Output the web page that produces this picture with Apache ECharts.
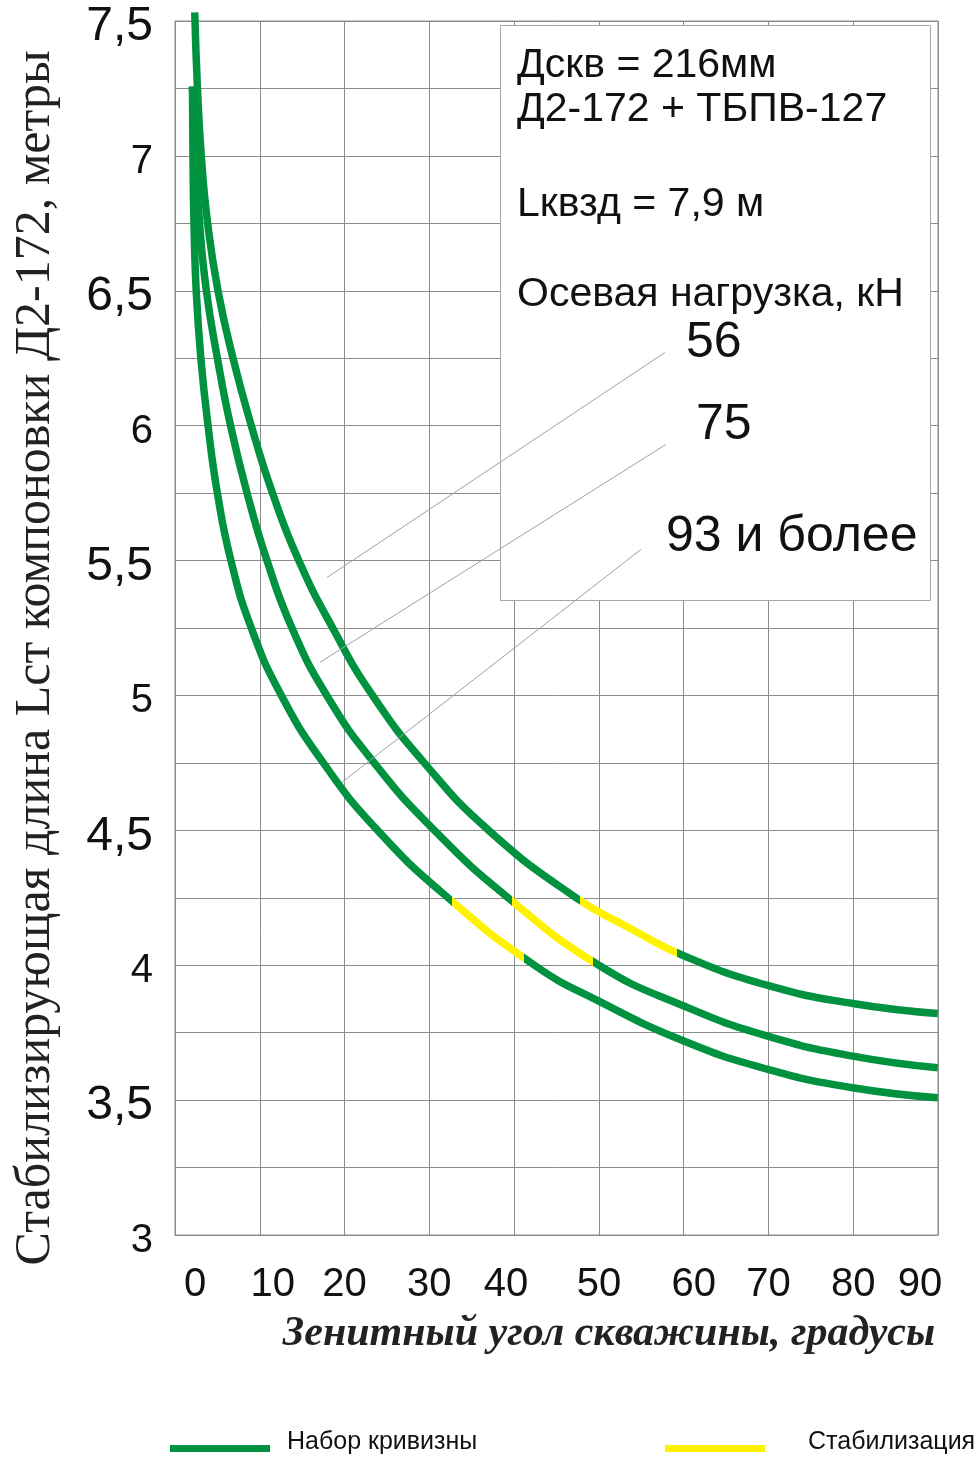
<!DOCTYPE html>
<html><head><meta charset="utf-8">
<script src="https://cdn.jsdelivr.net/npm/echarts@6/dist/echarts.min.js"></script>
<style>html,body{margin:0;padding:0;background:#fff}#c{width:976px;height:1459px}</style>
</head><body><div id="c"></div>
<script>
// ---- data (zenith angle, degrees ; stabilizing length, m) ----
const angle56 = [2.33, 2.65, 3.10, 3.85, 5.07, 6.84, 9.00, 11.50, 14.60, 18.60, 23.30, 29.40, 37.00, 47.30, 53.50, 60.02, 69.92, 79.95, 89.97];
const len56   = [7.532, 7.25, 7.00, 6.75, 6.50, 6.25, 6.00, 5.75, 5.50, 5.25, 5.00, 4.75, 4.50, 4.25, 4.14, 4.035, 3.925, 3.858, 3.821];
const angle75 = [2.06, 2.40, 2.90, 3.70, 5.00, 6.55, 8.50, 10.85, 13.80, 17.90, 23.50, 30.60, 39.30, 50.00, 60.02, 69.92, 79.95, 89.97];
const len75   = [7.257, 7.00, 6.75, 6.50, 6.25, 6.00, 5.75, 5.50, 5.25, 5.00, 4.75, 4.50, 4.25, 4.00, 3.849, 3.737, 3.663, 3.620];
const angle93 = [2.06, 2.12, 2.24, 2.50, 3.05, 3.90, 5.00, 6.60, 9.00, 12.55, 17.50, 23.90, 32.20, 42.40, 49.99, 60.02, 69.92, 79.95, 89.97];
const len93   = [7.257, 7.00, 6.75, 6.50, 6.25, 6.00, 5.75, 5.50, 5.25, 5.00, 4.75, 4.50, 4.25, 4.00, 3.867, 3.719, 3.614, 3.546, 3.509];
// stabilization (yellow) ranges by angle
const stab56 = [47.75, 59.16];
const stab75 = [39.70, 49.29];
const stab93 = [32.63, 41.15];
// leader lines from labels to curves [angle, length]
const leader56 = [[57.78, 6.271], [17.92, 5.437]];
const leader75 = [[57.89, 5.930], [17.10, 5.123]];
const leader93 = [[54.95, 5.541], [19.69, 4.678]];
const xTickLabels = ['0','10','20','30','40','50','60','70','80','90'];
const yTickLabels = ['3','3,5','4','4,5','5','5,5','6','6,5','7','7,5'];
const seriesNames = ['56', '75', '93 и более'];
const legendNames = ['Набор кривизны', 'Стабилизация'];

const GREEN = '#00923f', YELLOW = '#fff200', GRID = '#8c8c8c';
const SANS = "'Liberation Sans', Arial, sans-serif";
const SERIF = "'Liberation Serif', 'Times New Roman', serif";

const zip = (a, b) => a.map((v, i) => [v, b[i]]);
const chart = echarts.init(document.getElementById('c'), null, {renderer: 'canvas'});

function curve(name, ax, ly, leader) {
  return {
    type: 'line', name, data: zip(ax, ly), smooth: 0.5,
    showSymbol: false, clip: false, lineStyle: {width: 7.5}, z: 3,
    markLine: {silent: true, symbol: 'none', label: {show: false}, animation: false,
      lineStyle: {color: '#a0a0a0', width: 1, type: 'solid'},
      data: [[{coord: leader[0]}, {coord: leader[1]}]]}
  };
}
function stabMap(idx, r) {
  return {type: 'piecewise', show: false, seriesIndex: idx, dimension: 0,
    pieces: [{lt: r[0], color: GREEN}, {gte: r[0], lte: r[1], color: YELLOW}, {gt: r[1], color: GREEN}]};
}
const xShift = {0: 40, 10: 26, 40: -16, 60: 20, 90: -36};
const xRich = {};
xTickLabels.forEach((t, i) => {
  const v = i * 10, s = xShift[v] || 0;
  xRich['t' + v] = {fontFamily: SANS, fontSize: 40, color: '#111', padding: s >= 0 ? [0, 0, 0, s] : [0, -s, 0, 0]};
});
function legendCfg(name, left, gap) {
  return {data: [name], left, top: 1430, padding: 0, icon: 'rect', itemWidth: 100, itemHeight: 7,
    selectedMode: false, formatter: n => '{a|' + n + '}',
    textStyle: {fontFamily: SANS, fontSize: 25, color: '#111',
      rich: {a: {fontFamily: SANS, fontSize: 25, color: '#111', padding: [0, 0, 12, gap]}}}};
}

chart.setOption({
  animation: false,
  backgroundColor: '#fff',
  grid: {left: 175, top: 21, width: 763, height: 1214, show: true, borderColor: GRID, borderWidth: 1},
  xAxis: {
    type: 'value', min: 0, max: 90, interval: 10,
    axisLine: {show: true, lineStyle: {color: GRID}}, axisTick: {show: false},
    splitLine: {show: true, lineStyle: {color: GRID, width: 1}},
    axisLabel: {margin: 30, formatter: v => '{t' + v + '|' + xTickLabels[Math.round(v / 10)] + '}', rich: xRich},
    name: 'Зенитный угол скважины, градусы', nameLocation: 'middle', nameGap: 78,
    nameTextStyle: {fontFamily: SERIF, fontSize: 42, fontStyle: 'italic', fontWeight: 'bold', color: '#222', padding: [0, 0, 0, 105]}
  },
  yAxis: {
    type: 'value', min: 3, max: 7.5, interval: 0.25,
    axisLine: {show: true, lineStyle: {color: GRID}}, axisTick: {show: false},
    splitLine: {show: true, lineStyle: {color: GRID, width: 1}},
    axisLabel: {margin: 22, formatter: v => {
        const k = Math.round(v * 2);
        if (Math.abs(v * 2 - k) > 1e-6) return '';
        const t = yTickLabels[k - 6];
        return (k % 2 === 0 ? '{i|' : '{h|') + t + '}';
      },
      rich: {i: {fontFamily: SANS, fontSize: 40, color: '#111', padding: [12, 0, 0, 0]},
             h: {fontFamily: SANS, fontSize: 48, color: '#111', padding: [12, 0, 0, 0]}}},
    name: 'Стабилизирующая длина Lст компоновки Д2-172, метры', nameLocation: 'middle', nameGap: 114, nameRotate: 90,
    nameTextStyle: {fontFamily: SERIF, fontSize: 50, color: '#222', padding: [0, 60, 0, 0]}
  },
  visualMap: [stabMap(0, stab56), stabMap(1, stab75), stabMap(2, stab93)],
  legend: [legendCfg(legendNames[0], 170, 12), legendCfg(legendNames[1], 665, 38)],
  series: [
    curve(seriesNames[0], angle56, len56, leader56),
    curve(seriesNames[1], angle75, len75, leader75),
    curve(seriesNames[2], angle93, len93, leader93),
    {type: 'line', name: legendNames[0], data: [], color: GREEN},
    {type: 'line', name: legendNames[1], data: [], color: YELLOW}
  ],
  graphic: [
    {type: 'rect', z: 1, shape: {x: 500.5, y: 25.5, width: 430, height: 575}, style: {fill: '#fff', stroke: '#a8a8a8', lineWidth: 1}},
    {type: 'text', z: 10, style: {text: 'Дскв = 216мм', x: 517, y: 66, font: "41px " + SANS, fill: '#111', textVerticalAlign: 'middle'}},
    {type: 'text', z: 10, style: {text: 'Д2-172 + ТБПВ-127', x: 517, y: 110, font: "41px " + SANS, fill: '#111', textVerticalAlign: 'middle'}},
    {type: 'text', z: 10, style: {text: 'Lквзд = 7,9 м', x: 517, y: 205, font: "41px " + SANS, fill: '#111', textVerticalAlign: 'middle'}},
    {type: 'text', z: 10, style: {text: 'Осевая нагрузка, кН', x: 517, y: 295, font: "41px " + SANS, fill: '#111', textVerticalAlign: 'middle'}},
    {type: 'text', z: 10, style: {text: seriesNames[0], x: 686, y: 343, font: "50px " + SANS, fill: '#111', textVerticalAlign: 'middle'}},
    {type: 'text', z: 10, style: {text: seriesNames[1], x: 696, y: 425, font: "50px " + SANS, fill: '#111', textVerticalAlign: 'middle'}},
    {type: 'text', z: 10, style: {text: seriesNames[2], x: 666, y: 537, font: "50px " + SANS, fill: '#111', textVerticalAlign: 'middle'}}
  ]
});
</script></body></html>
